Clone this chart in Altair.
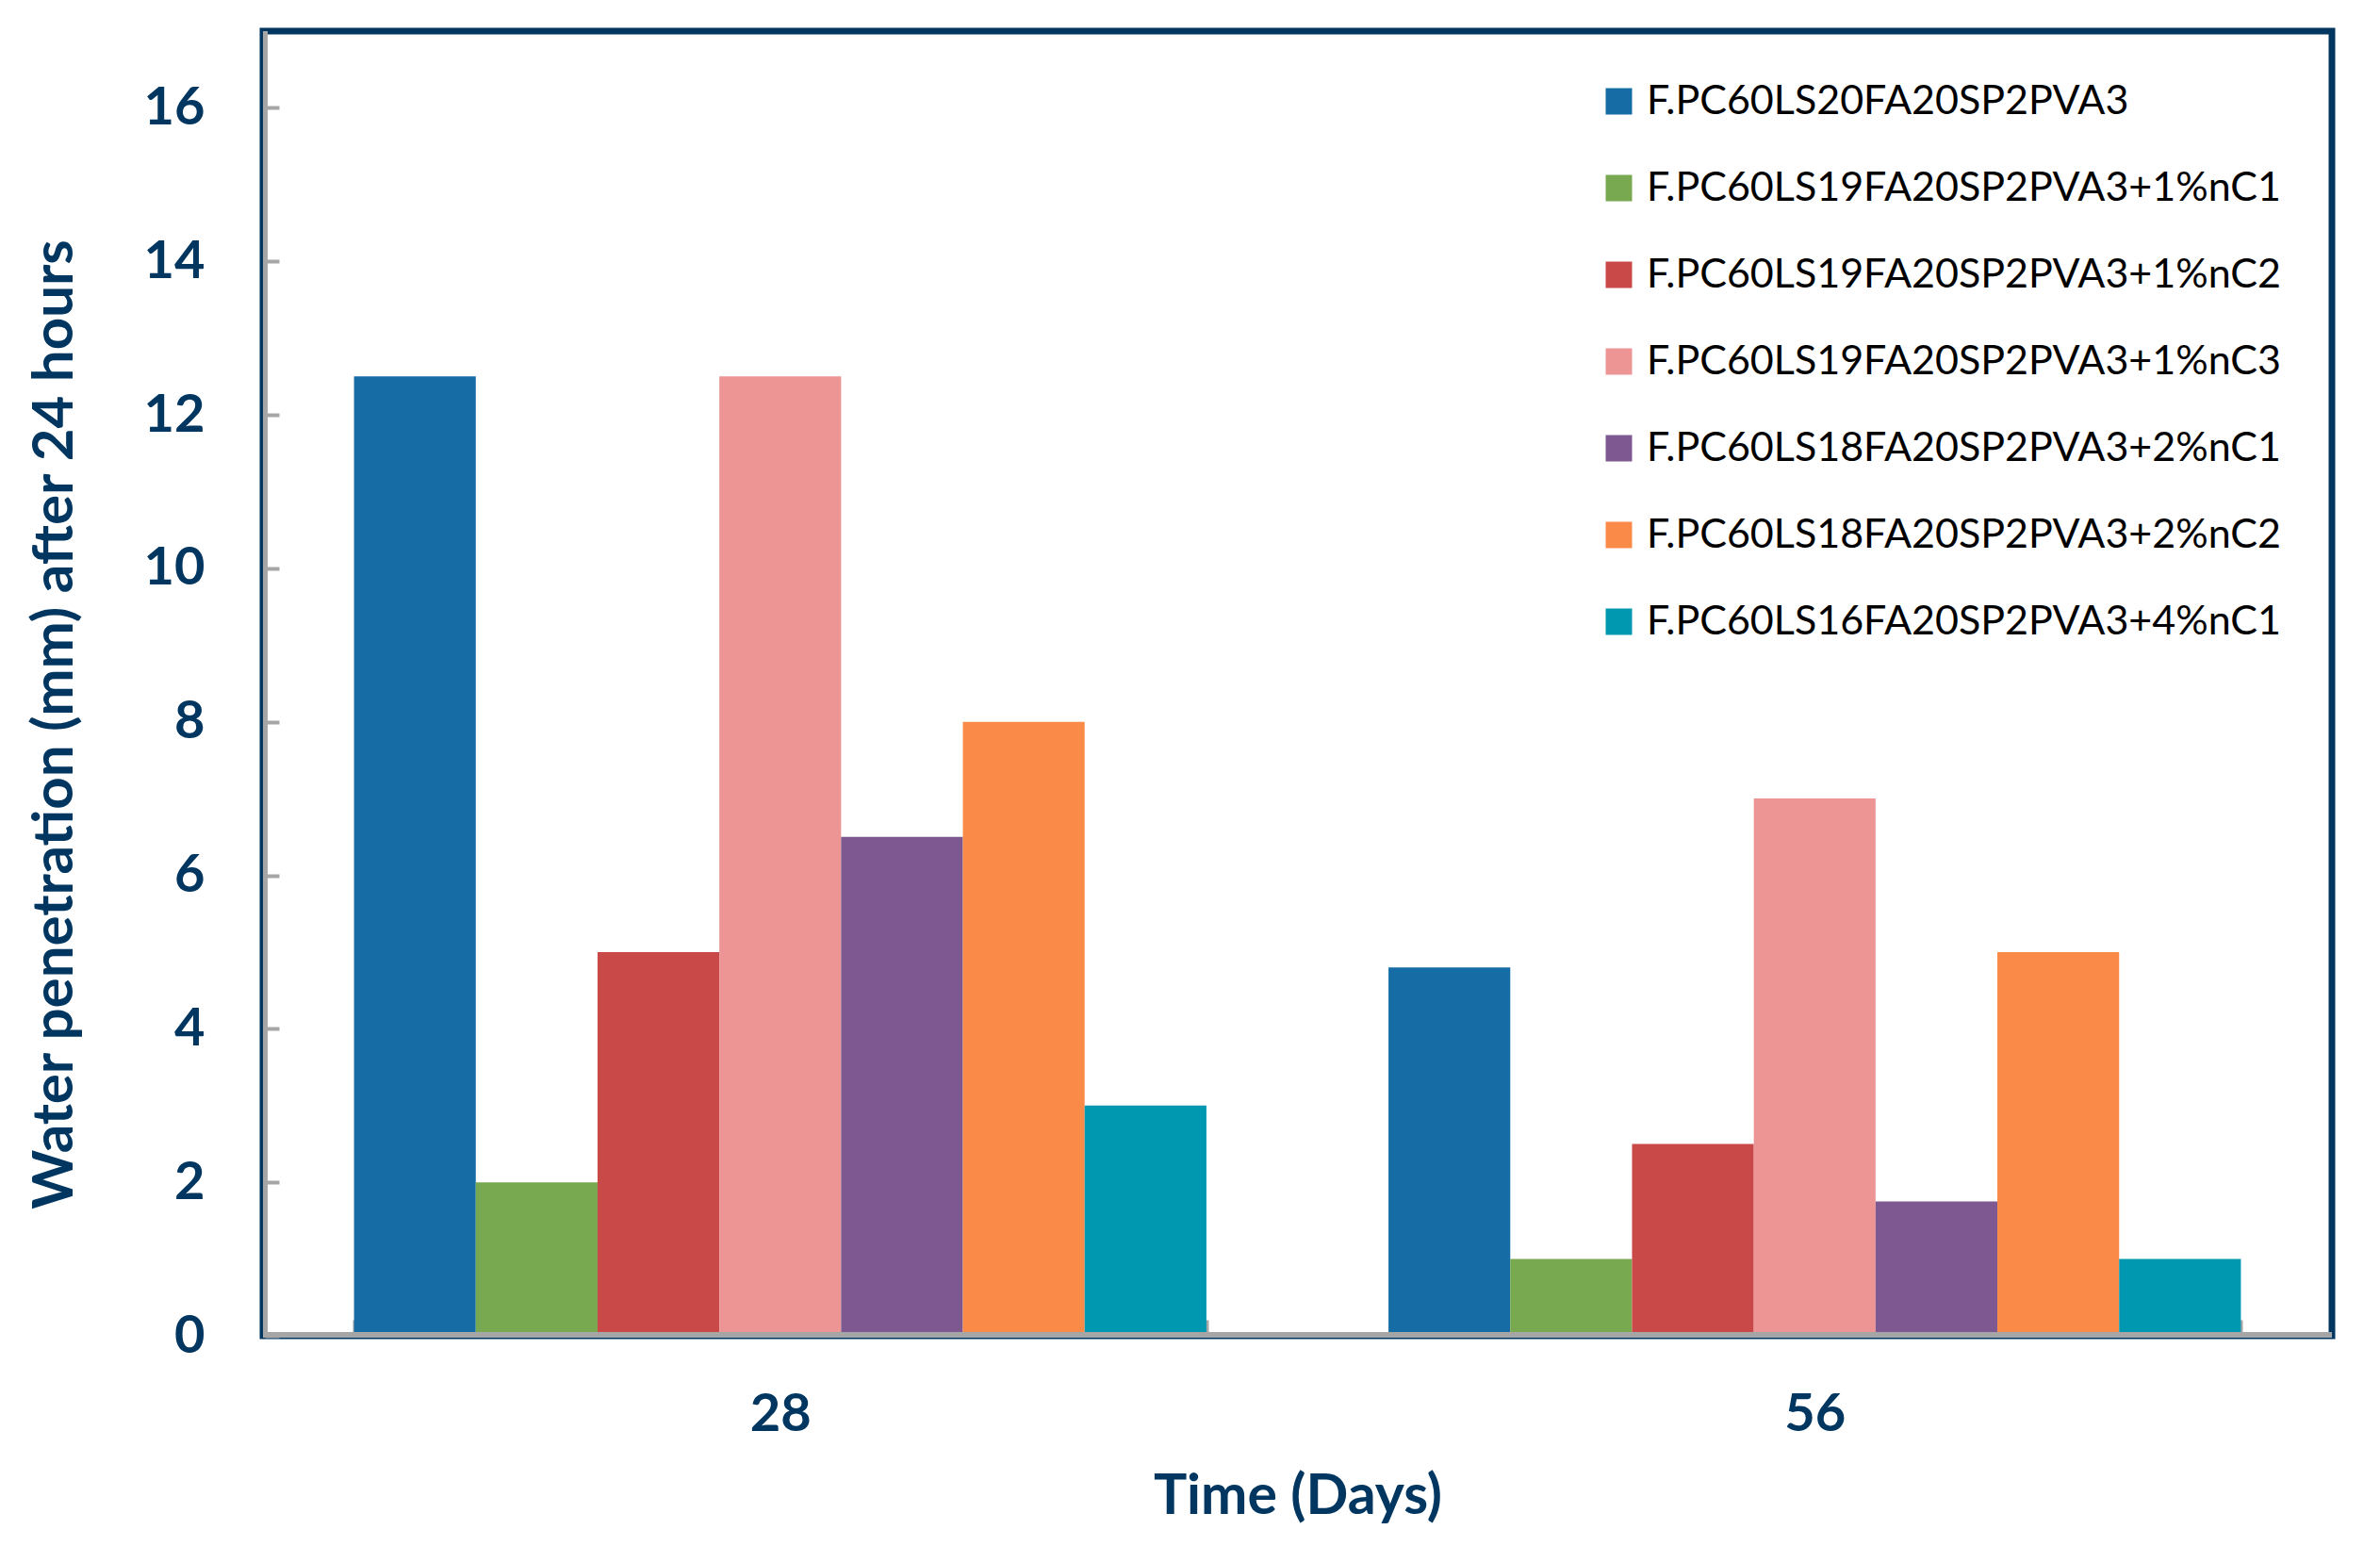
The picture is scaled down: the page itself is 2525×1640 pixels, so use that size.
import altair as alt
import pandas as pd

times = ["28", "56"]
series = [
    "F.PC60LS20FA20SP2PVA3",
    "F.PC60LS19FA20SP2PVA3+1%nC1",
    "F.PC60LS19FA20SP2PVA3+1%nC2",
    "F.PC60LS19FA20SP2PVA3+1%nC3",
    "F.PC60LS18FA20SP2PVA3+2%nC1",
    "F.PC60LS18FA20SP2PVA3+2%nC2",
    "F.PC60LS16FA20SP2PVA3+4%nC1",
]
values_28 = [12.5, 2.0, 5.0, 12.5, 6.5, 8.0, 3.0]
values_56 = [4.8, 1.0, 2.5, 7.0, 1.75, 5.0, 1.0]
colors = ["#166DA5", "#78A850", "#C94949", "#EC9594", "#7E5891", "#FA8A47", "#0098B0"]
y_ticks = [0, 2, 4, 6, 8, 10, 12, 14, 16]

rows = []
for t, vals in zip(times, [values_28, values_56]):
    for s, v in zip(series, vals):
        rows.append({"time": t, "series": s, "value": v})
df = pd.DataFrame(rows)

NAVY = "#003660"
GRAY = "#A6A6A6"
FONT = "Lato"

bars = alt.Chart(df).mark_bar().encode(
    x=alt.X(
        "time:N",
        sort=times,
        scale=alt.Scale(paddingInner=0.176, paddingOuter=0.088),
        axis=alt.Axis(
            title="Time (Days)",
            titleFont=FONT, titleFontSize=59, titleFontWeight="bold", titleColor=NAVY,
            titlePadding=30,
            labelFont=FONT, labelFontSize=56, labelFontWeight="bold", labelColor=NAVY,
            labelAngle=0, labelPadding=58,
            domain=False, ticks=True, tickBand="extent", tickSize=15, tickWidth=4,
            tickColor=GRAY, offset=-17, grid=False,
        ),
    ),
    xOffset=alt.XOffset("series:N", sort=series, scale=alt.Scale(paddingInner=0, paddingOuter=0)),
    y=alt.Y(
        "value:Q",
        scale=alt.Scale(domain=[0, 17], nice=False),
        axis=alt.Axis(
            title="Water penetration (mm) after 24 hours",
            titleFont=FONT, titleFontSize=60, titleFontWeight="bold", titleColor=NAVY,
            titlePadding=63, titleY=735,
            labelFont=FONT, labelFontSize=56, labelFontWeight="bold", labelColor=NAVY,
            labelPadding=64, values=y_ticks, format="d",
            domain=False, ticks=True, tickSize=15, tickWidth=4, tickColor=GRAY,
            offset=-17, grid=False,
        ),
    ),
    color=alt.Color(
        "series:N",
        sort=series,
        scale=alt.Scale(domain=series, range=colors),
        legend=alt.Legend(
            title=None, orient="none", legendX=1417, legendY=53,
            symbolType="square", symbolSize=784, symbolStrokeWidth=0,
            labelFont=FONT, labelFontSize=43, labelColor="black", labelLimit=2000,
            labelOffset=8, rowPadding=48, padding=0,
        ),
    ),
)

left_line = alt.Chart(df).mark_rule(color=GRAY, strokeWidth=5).encode(x=alt.value(2.5))
bottom_line = alt.Chart(df).mark_rule(color=GRAY, strokeWidth=5, yOffset=-1).encode(y=alt.datum(0))

chart = (
    alt.layer(bars, left_line, bottom_line)
    .properties(
        width=2195, height=1384,
        autosize=alt.AutoSizeParams(type="none"),
        padding={"left": 271, "top": 25, "right": 30, "bottom": 200},
        background="white",
    )
    .configure_view(stroke=NAVY, strokeWidth=7)
)

chart.save("out.html", embed_options={"renderer": "svg", "actions": False})
